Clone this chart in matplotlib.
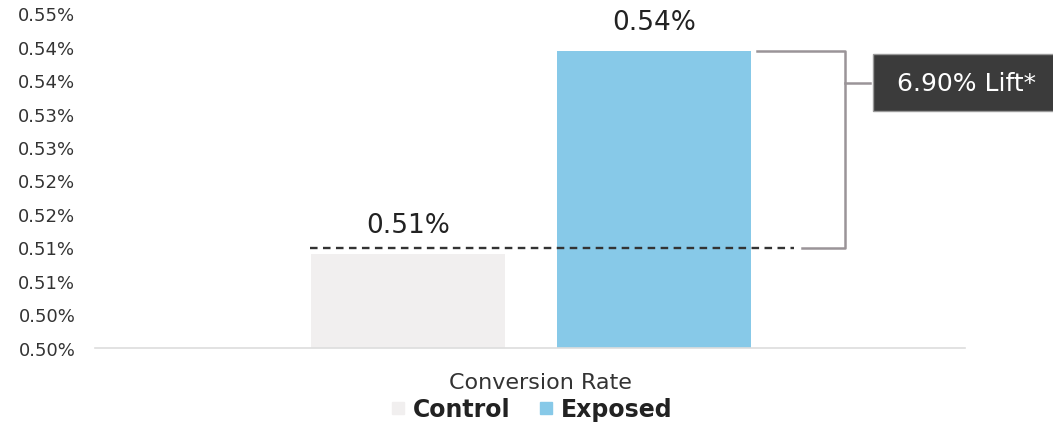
import numpy as np
import matplotlib
matplotlib.use("Agg")
import matplotlib.pyplot as plt
import matplotlib.patches as patches
from matplotlib.lines import Line2D

# data (percent)
categories = ["Control", "Exposed"]
values = [0.5140, 0.5443]
value_labels = ["0.51%", "0.54%"]
baseline = 0.5149  # dashed reference line
lift_label = "6.90% Lift*"
yticks = [0.500, 0.505, 0.510, 0.515, 0.520, 0.525, 0.530, 0.535, 0.540, 0.545, 0.550]
ytick_labels = ["0.50%", "0.50%", "0.51%", "0.51%", "0.52%", "0.52%",
                "0.53%", "0.53%", "0.54%", "0.54%", "0.55%"]
colors = ["#f1efef", "#87c9e8"]

plt.rcParams['font.family'] = ['DejaVu Sans']

fig = plt.figure(figsize=(10.53, 4.27), dpi=100)
ax = fig.add_axes([0.090, 0.183, 0.826, 0.784])

x = np.arange(len(categories))
bars = ax.bar(x, values, width=0.79, color=colors, zorder=2)

ax.set_ylim(0.50, 0.55)
ax.set_xlim(-1.274, 2.262)
ax.set_yticks(yticks)
ax.set_yticklabels(ytick_labels, fontsize=13, color="#333333")
ax.set_xticks([])
ax.tick_params(axis="y", length=0, pad=14)
for s in ["top", "right", "left"]:
    ax.spines[s].set_visible(False)
ax.spines["bottom"].set_color("#dddddd")
ax.spines["bottom"].set_linewidth(1.2)

# value labels
for xi, v, lab in zip(x, values, value_labels):
    ax.text(xi, v + 0.0024, lab, ha="center", va="bottom", fontsize=19, color="#222222")

# dashed reference line from control bar across exposed bar
ax.plot([-0.40, 1.57], [baseline, baseline], linestyle=(0, (3.2, 2.3)), color="#333333",
        linewidth=1.7, zorder=3)

# bracket
bc = "#9a9498"
ax.plot([1.417, 1.778, 1.778, 1.60], [values[1], values[1], baseline, baseline],
        color=bc, linewidth=1.8, zorder=3, clip_on=False)
box_mid = 0.5396
ax.plot([1.778, 1.876], [box_mid, box_mid], color=bc, linewidth=1.8, clip_on=False)
rect = patches.Rectangle((1.888, 0.5354), 0.75, 0.0085, facecolor="#3b3b3b",
                         edgecolor="#9a9a9a", linewidth=1, clip_on=False, zorder=4)
ax.add_patch(rect)
ax.text(2.27, box_mid, lift_label, ha="center", va="center", color="white",
        fontsize=18, zorder=5, clip_on=False)

# x label + legend
fig.text(0.513, 0.103, "Conversion Rate", ha="center", va="center", fontsize=16, color="#333333")
handles = [Line2D([], [], marker="s", linestyle="none", markersize=8, color=c) for c in colors]
leg = fig.legend(handles, categories, loc="center", bbox_to_anchor=(0.505, 0.04), ncol=2,
                 frameon=False, handlelength=0.6, handletextpad=0.35, columnspacing=1.2,
                 prop={"size": 17, "weight": "bold"})
for t in leg.get_texts():
    t.set_color("#222222")

fig.savefig("out.png", dpi=100)
